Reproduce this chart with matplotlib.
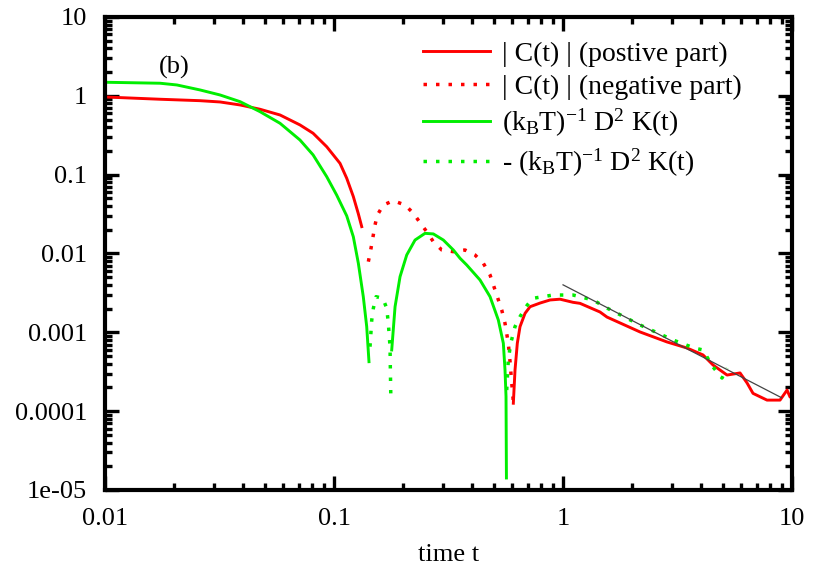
import matplotlib
matplotlib.use("Agg")
import matplotlib.pyplot as plt
from matplotlib.ticker import LogLocator, NullFormatter, FixedLocator, FixedFormatter

plt.rcParams['font.family'] = ['Liberation Serif', 'DejaVu Serif']
plt.rcParams['mathtext.fontset'] = 'custom'
plt.rcParams['mathtext.rm'] = 'Liberation Serif'
plt.rcParams['mathtext.default'] = 'regular'

# |C(t)| positive part (two branches)
c_pos1_t = [0.01, 0.0174, 0.0260, 0.0318, 0.0389, 0.0475, 0.0581, 0.0710, 0.0810, 0.0929,
            0.1062, 0.1136, 0.1214, 0.1277, 0.1321]
c_pos1_y = [0.966, 0.904, 0.867, 0.835, 0.765, 0.675, 0.571, 0.427, 0.335, 0.226,
            0.139, 0.090, 0.0527, 0.0318, 0.0219]
c_pos2_t = [0.6067, 0.6171, 0.6315, 0.6489, 0.6825, 0.7176, 0.7937, 0.8774, 0.9703, 1.106,
            1.186, 1.450, 1.556, 2.169, 2.846, 3.479, 4.087, 4.519, 5.202, 5.929, 6.361,
            6.756, 7.777, 8.863, 9.511, 9.802, 10.0]
c_pos2_y = [0.000126, 0.000333, 0.000726, 0.00118, 0.00174, 0.00211, 0.00235, 0.00257,
            0.00263, 0.00240, 0.00233, 0.00181, 0.00156, 0.00101, 0.000754, 0.000632,
            0.000516, 0.000385, 0.000287, 0.000305, 0.000228, 0.000168, 0.000138,
            0.000138, 0.000185, 0.000151, 0.00016]

# |C(t)| negative part
c_neg_t = [0.1412, 0.1446, 0.1476, 0.1510, 0.1546, 0.1642, 0.1815, 0.2042, 0.2220, 0.2374,
           0.2539, 0.2714, 0.2954, 0.3319, 0.3733, 0.4127, 0.4487, 0.4800, 0.5134, 0.5399,
           0.5580, 0.5768, 0.5869, 0.5970, 0.6067]
c_neg_y = [0.00787, 0.01107, 0.0156, 0.0230, 0.0308, 0.0412, 0.0467, 0.0412, 0.0324, 0.0246,
           0.0189, 0.0141, 0.01107, 0.01054, 0.01107, 0.00957, 0.00751, 0.00534, 0.00297,
           0.00192, 0.00130, 0.000726, 0.000424, 0.000226, 0.000132]

# (kBT)^-1 D^2 K(t), positive branches
k_pos1_t = [0.01, 0.0174, 0.0206, 0.0260, 0.0318, 0.0389, 0.0475, 0.0581, 0.0710, 0.0810,
            0.0929, 0.1027, 0.1136, 0.1214, 0.1277, 0.1342, 0.1389, 0.1421]
k_pos1_y = [1.485, 1.443, 1.372, 1.186, 1.024, 0.842, 0.629, 0.448, 0.275, 0.178,
            0.0942, 0.055, 0.030, 0.0163, 0.0075, 0.00283, 0.00118, 0.000424]
k_pos2_t = [0.1786, 0.1847, 0.1942, 0.2077, 0.2258, 0.2496, 0.2714, 0.3002, 0.3319, 0.3550,
            0.3797, 0.4340, 0.4800, 0.5218, 0.5487, 0.5580, 0.5637, 0.566]
k_pos2_y = [0.000597, 0.00211, 0.00508, 0.00957, 0.0148, 0.0180, 0.0177, 0.0148, 0.01107,
            0.00869, 0.00714, 0.00461, 0.00283, 0.00143, 0.000726, 0.000333, 0.000153, 1.42e-5]

# -(kBT)^-1 D^2 K(t), negative branches
k_neg1_t = [0.1436, 0.1461, 0.1485, 0.1526, 0.1632, 0.1699, 0.1726, 0.1756, 0.1762, 0.1769]
k_neg1_y = [0.000657, 0.00143, 0.00202, 0.00283, 0.00270, 0.00202, 0.00130, 0.000657,
            0.000333, 0.000168]
k_neg2_t = [0.5676, 0.5768, 0.5910, 0.6171, 0.6489, 0.6984, 0.7396, 0.9044, 1.106, 1.352,
            1.556, 2.169, 3.022, 3.75, 4.087, 4.254, 4.519, 4.947, 5.202]
k_neg2_y = [0.000185, 0.000445, 0.000726, 0.00118, 0.00158, 0.00222, 0.00270, 0.00297,
            0.00297, 0.00257, 0.00203, 0.00124, 0.000799, 0.00063, 0.000597, 0.000486,
            0.000363, 0.000263, 0.000353]

# t^{-3/2} guide line
guide_t = [1.0, 9.0]
guide_y = [0.0040, 0.000148]

x_ticks = [0.01, 0.1, 1, 10]
x_ticklabels = ['0.01', '0.1', '1', '10']
y_ticks = [1e-5, 1e-4, 1e-3, 1e-2, 1e-1, 1, 10]
y_ticklabels = ['1e-05', '0.0001', '0.001', '0.01', '0.1', '1', '10']

labels = ['| C(t) | (postive part)', '| C(t) | (negative part)',
          '(k$_B$T)$^{-1}$ D$^2$ K(t)', '- (k$_B$T)$^{-1}$ D$^2$ K(t)']

red = '#ff0000'
green = '#00ee00'
dots = (0, (1.0, 2.6))

fig = plt.figure(figsize=(8.13, 5.73), dpi=100)
ax = fig.add_axes([0.1292, 0.1449, 0.845, 0.8255])

ax.plot(c_pos1_t, c_pos1_y, color=red, lw=2.1, label=labels[0])
ax.plot(c_pos2_t, c_pos2_y, color=red, lw=2.1)
ax.plot(c_neg_t, c_neg_y, color=red, lw=2.5, ls=dots, label=labels[1])
ax.plot(k_pos1_t, k_pos1_y, color=green, lw=2.1, label=labels[2])
ax.plot(k_pos2_t, k_pos2_y, color=green, lw=2.1)
ax.plot(k_neg1_t, k_neg1_y, color=green, lw=2.5, ls=dots, label=labels[3])
ax.plot(k_neg2_t, k_neg2_y, color=green, lw=2.5, ls=dots)
ax.plot(guide_t, guide_y, color='#444444', lw=0.9)

ax.set_xscale('log')
ax.set_yscale('log')
ax.set_xlim(0.01, 10)
ax.set_ylim(1e-5, 10)

ax.xaxis.set_major_locator(FixedLocator(x_ticks))
ax.xaxis.set_major_formatter(FixedFormatter(x_ticklabels))
ax.yaxis.set_major_locator(FixedLocator(y_ticks))
ax.yaxis.set_major_formatter(FixedFormatter(y_ticklabels))
ax.xaxis.set_minor_locator(LogLocator(base=10, subs=range(2, 10), numticks=20))
ax.yaxis.set_minor_locator(LogLocator(base=10, subs=range(2, 10), numticks=20))
ax.xaxis.set_minor_formatter(NullFormatter())
ax.yaxis.set_minor_formatter(NullFormatter())

ax.tick_params(which='both', direction='in', top=True, right=True, labelsize=19, width=2.4)
ax.tick_params(which='major', length=10, pad=13)
ax.tick_params(which='minor', length=5)
for s in ax.spines.values():
    s.set_linewidth(3.0)

ax.set_xlabel('time t', fontsize=19, labelpad=10)
ax.text(0.020, 2.30, '(b)', fontsize=19, ha='center', va='center')

leg = ax.legend(loc='upper left', frameon=False, fontsize=20, handlelength=2.4,
                handletextpad=0.43, labelspacing=0.26, borderpad=0.0, borderaxespad=0.0,
                bbox_to_anchor=(0.463, 0.948))

fig.savefig('out.png', dpi=100)
